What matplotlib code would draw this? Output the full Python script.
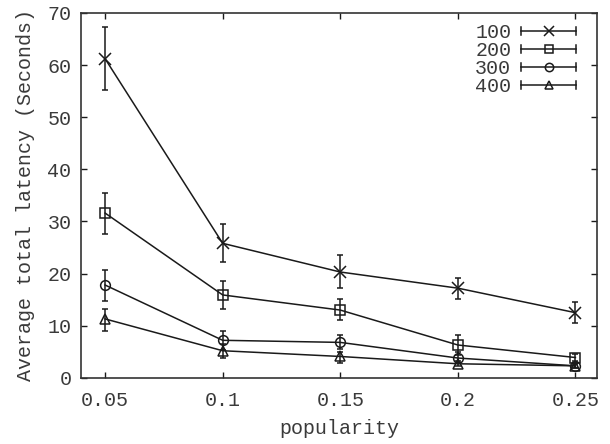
"""Average total latency vs popularity — gnuplot-style line plot with error bars."""

import matplotlib
matplotlib.use("Agg")
import matplotlib.pyplot as plt
from matplotlib.legend_handler import HandlerBase
from matplotlib.lines import Line2D

plt.rcParams["font.family"] = ["Liberation Mono", "DejaVu Sans Mono"]

popularity = [0.05, 0.1, 0.15, 0.2, 0.25]
series_names = ["100", "200", "300", "400"]

lat_100 = [61.2, 25.8, 20.3, 17.2, 12.5]
lo_100 = [55.2, 22.2, 17.2, 15.2, 10.5]
hi_100 = [67.3, 29.5, 23.5, 19.2, 14.5]

lat_200 = [31.6, 15.9, 13.0, 6.3, 3.9]
lo_200 = [27.6, 13.3, 11.0, 4.3, 3.3]
hi_200 = [35.5, 18.5, 15.1, 8.2, 4.6]

lat_300 = [17.8, 7.2, 6.8, 3.8, 2.3]
lo_300 = [14.8, 5.3, 5.6, 2.8, 1.8]
hi_300 = [20.7, 9.0, 8.2, 5.0, 2.8]

lat_400 = [11.3, 5.2, 4.1, 2.7, 2.3]
lo_400 = [8.9, 3.9, 2.9, 2.2, 1.9]
hi_400 = [13.2, 6.5, 4.9, 3.2, 2.7]

means = [lat_100, lat_200, lat_300, lat_400]
lows = [lo_100, lo_200, lo_300, lo_400]
highs = [hi_100, hi_200, hi_300, hi_400]
markers = ["x", "s", "o", "^"]
msizes = [8, 6.5, 7, 7]
INK = "#1a1a1a"
TXT = "#3a3a3a"
LW = 1.1
FS = 14.4


class GnuplotErrHandler(HandlerBase):
    # horizontal sample line with end caps and the marker in the middle
    def create_artists(self, legend, orig, xd, yd, width, height, fontsize, trans):
        y = height / 2 - yd
        x0, x1 = -xd, -xd + width
        art = [Line2D([x0, x1], [y, y], color=INK, lw=LW),
               Line2D([x0, x0], [y - 3, y + 3], color=INK, lw=LW),
               Line2D([x1, x1], [y - 3, y + 3], color=INK, lw=LW),
               Line2D([(x0 + x1) / 2], [y], marker=orig.get_marker(),
                      markersize=orig.get_markersize(), mfc="none",
                      mec=INK, mew=LW, color=INK)]
        for a in art:
            a.set_transform(trans)
        return art


fig, ax = plt.subplots(figsize=(6.1, 4.44), dpi=100)
fig.subplots_adjust(left=0.133, right=0.978, top=0.971, bottom=0.149)

handles = []
for name, m, lo, hi, mk, ms in zip(series_names, means, lows, highs, markers, msizes):
    err = [[v - l for v, l in zip(m, lo)], [h - v for v, h in zip(m, hi)]]
    ax.errorbar(popularity, m, yerr=err, color=INK, lw=LW, elinewidth=LW,
                capsize=2.5, capthick=LW, marker=mk, markersize=ms,
                mfc="none", mec=INK, mew=LW)
    handles.append(Line2D([], [], marker=mk, markersize=ms - 1, color=INK, label=name))

ax.set_xlim(0.0398, 0.2590)
ax.set_ylim(0, 70)
ax.set_xticks(popularity)
ax.set_xticklabels(["0.05", "0.1", "0.15", "0.2", "0.25"])
ax.set_yticks(range(0, 71, 10))
ax.tick_params(direction="in", top=True, right=True, length=4.5, width=1,
               labelsize=FS, colors=INK, labelcolor=TXT, pad=7)
ax.tick_params(axis="x", pad=9.2)
for s in ax.spines.values():
    s.set_linewidth(1.2)
    s.set_color("#333333")

ax.set_xlabel("popularity", fontsize=FS, color=TXT, labelpad=7)
ax.set_ylabel("Average total latency (Seconds)", fontsize=FS, color=TXT, labelpad=9)

leg = ax.legend(handles=handles, loc="upper right", bbox_to_anchor=(0.98, 1.0),
                frameon=False, markerfirst=False,
                handler_map={Line2D: GnuplotErrHandler()}, fontsize=FS,
                handlelength=2.75, handletextpad=0.5, labelspacing=-0.05,
                borderaxespad=0.1)
for t in leg.get_texts():
    t.set_color(TXT)

fig.savefig("out.png", dpi=100)
